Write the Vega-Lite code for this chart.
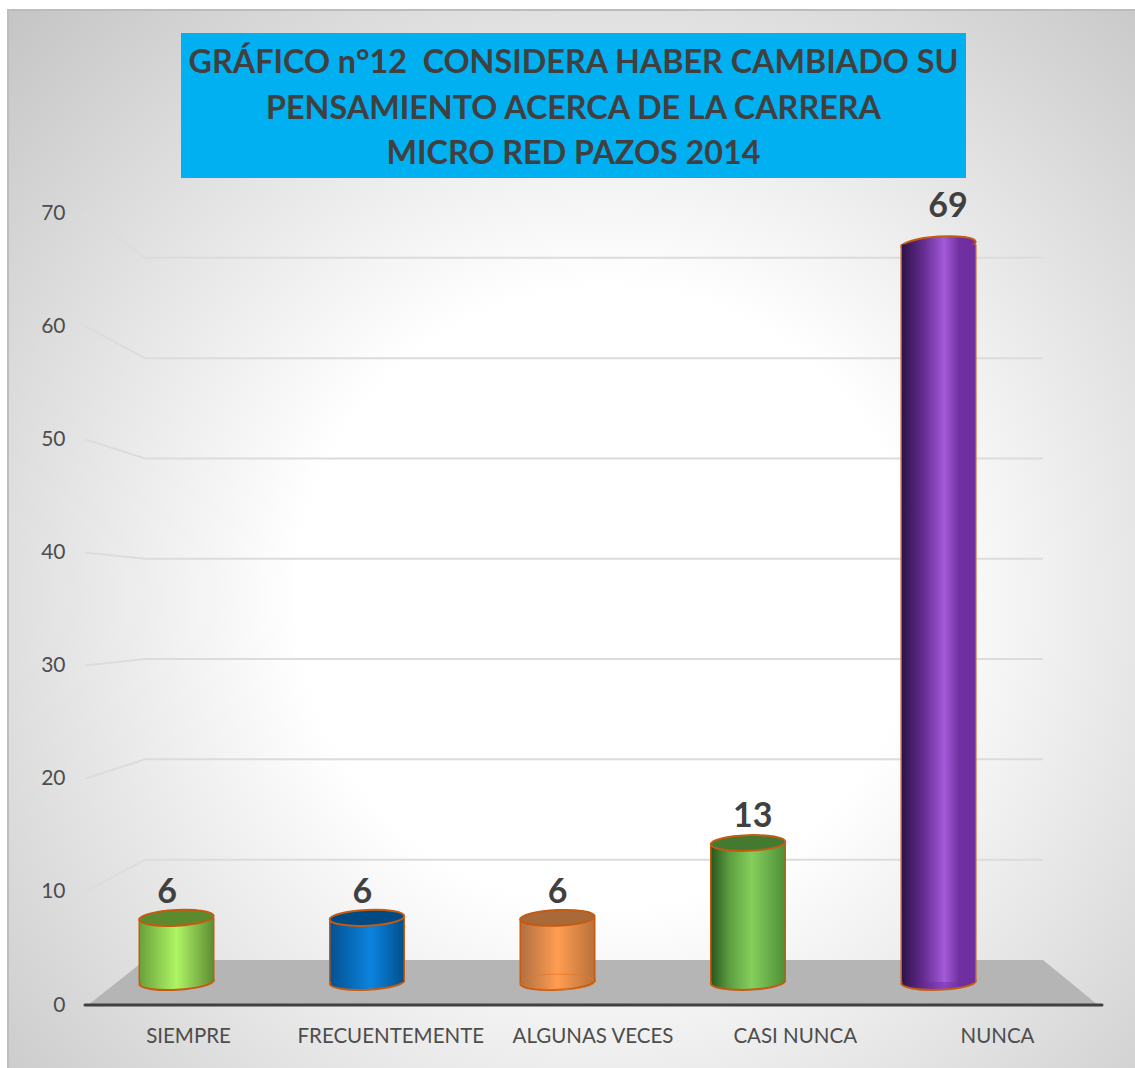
{
  "$schema": "https://vega.github.io/schema/vega-lite/v6.json",
  "width": 1130,
  "height": 1061,
  "padding": {"left": 8, "top": 10, "right": 0, "bottom": 0},
  "autosize": "none",
  "background": "white",
  "view": {
    "stroke": "#bdbdbd",
    "strokeWidth": 2,
    "fill": {
      "gradient": "radial",
      "x1": 0.53, "y1": 0.55, "r1": 0,
      "x2": 0.53, "y2": 0.55, "r2": 0.76,
      "stops": [
        {"offset": 0, "color": "#ffffff"},
        {"offset": 0.36, "color": "#ffffff"},
        {"offset": 1, "color": "#c2c2c2"}
      ]
    }
  },
  "config": {"font": "Lato"},
  "datasets": {
    "respuestas": [
      {"categoria": "SIEMPRE", "valor": 6},
      {"categoria": "FRECUENTEMENTE", "valor": 6},
      {"categoria": "ALGUNAS VECES", "valor": 6},
      {"categoria": "CASI NUNCA", "valor": 13},
      {"categoria": "NUNCA", "valor": 69}
    ],
    "piso": [
      {"a": 0.3, "altura": 0},
      {"a": 5.9, "altura": 3.98},
      {"a": 94.2, "altura": 3.98},
      {"a": 99.6, "altura": 0}
    ],
    "base": [
      {"a": 0, "altura": 0},
      {"a": 100, "altura": 0}
    ],
    "rejilla": [
      {"nivel": 10, "a": 0, "altura": 10},
      {"nivel": 10, "a": 5.9, "altura": 12.84},
      {"nivel": 10, "a": 94.2, "altura": 12.84},
      {"nivel": 20, "a": 0, "altura": 20},
      {"nivel": 20, "a": 5.9, "altura": 21.71},
      {"nivel": 20, "a": 94.2, "altura": 21.71},
      {"nivel": 30, "a": 0, "altura": 30},
      {"nivel": 30, "a": 5.9, "altura": 30.58},
      {"nivel": 30, "a": 94.2, "altura": 30.58},
      {"nivel": 40, "a": 0, "altura": 40},
      {"nivel": 40, "a": 5.9, "altura": 39.44},
      {"nivel": 40, "a": 94.2, "altura": 39.44},
      {"nivel": 50, "a": 0, "altura": 50},
      {"nivel": 50, "a": 5.9, "altura": 48.31},
      {"nivel": 50, "a": 94.2, "altura": 48.31},
      {"nivel": 60, "a": 0, "altura": 60},
      {"nivel": 60, "a": 5.9, "altura": 57.17},
      {"nivel": 60, "a": 94.2, "altura": 57.17},
      {"nivel": 70, "a": 0, "altura": 70},
      {"nivel": 70, "a": 5.9, "altura": 66.04},
      {"nivel": 70, "a": 94.2, "altura": 66.04}
    ],
    "encabezado": [
      {"panel": "encabezado"}
    ],
    "lineas": [
      {"orden": 1, "linea": "GRÁFICO n°12\u00a0 CONSIDERA HABER CAMBIADO SU"},
      {"orden": 2, "linea": "PENSAMIENTO ACERCA DE LA CARRERA"},
      {"orden": 3, "linea": "MICRO RED PAZOS 2014"}
    ]
  },
  "layer": [
    {
      "layer": [
        {
          "data": {"name": "piso"},
          "mark": {"type": "area", "color": "#b5b5b5"},
          "encoding": {
            "x": {"field": "a", "type": "quantitative", "scale": {"domain": [0, 100], "range": [77, 1094]}, "axis": null},
            "y": {"field": "altura", "type": "quantitative", "scale": {"domain": [0, 70], "range": [995, 203], "nice": false}, "axis": null},
            "y2": {"datum": 0}
          }
        },
        {
          "data": {"name": "rejilla"},
          "mark": {"type": "line", "color": "#dcdcdc", "strokeWidth": 2},
          "encoding": {
            "x": {"field": "a", "type": "quantitative", "axis": null},
            "y": {"field": "altura", "type": "quantitative", "axis": null},
            "detail": {"field": "nivel"}
          }
        },
        {
          "data": {"name": "base"},
          "mark": {"type": "line", "color": "#404040", "strokeWidth": 3, "strokeCap": "round"},
          "encoding": {
            "x": {"field": "a", "type": "quantitative", "axis": null},
            "y": {"field": "altura", "type": "quantitative", "axis": null}
          }
        }
      ]
    },
    {
      "data": {"name": "rejilla"},
      "mark": {"type": "point", "opacity": 0},
      "encoding": {
        "y": {
          "field": "nivel",
          "type": "quantitative",
          "scale": {"domain": [0, 70], "range": [995, 203], "nice": false},
          "axis": {
            "orient": "left",
            "title": null,
            "values": [0, 10, 20, 30, 40, 50, 60, 70],
            "grid": false,
            "ticks": false,
            "domain": false,
            "offset": -57,
            "labelPadding": 0,
            "labelFontSize": 21,
            "labelColor": "#4d4d4d"
          }
        }
      }
    },
    {
      "data": {"name": "encabezado"},
      "mark": {"type": "rect", "color": "#00b0f0"},
      "encoding": {
        "x": {"field": "panel", "type": "nominal", "scale": {"type": "band", "range": [173, 958], "padding": 0}, "axis": null},
        "y": {"field": "panel", "type": "nominal", "scale": {"type": "band", "range": [23, 168], "padding": 0}, "axis": null}
      }
    },
    {
      "data": {"name": "lineas"},
      "mark": {"type": "text", "fontWeight": "bold", "fontSize": 32.3, "color": "#404040", "baseline": "middle", "align": "center"},
      "encoding": {
        "x": {"datum": "encabezado", "type": "nominal", "scale": {"type": "band", "range": [173, 958], "padding": 0}, "axis": null},
        "y": {"field": "orden", "type": "ordinal", "scale": {"type": "point", "range": [53, 144], "padding": 0}, "axis": null},
        "text": {"field": "linea"}
      }
    },
    {
      "data": {"name": "respuestas"},
      "mark": {"type": "point", "opacity": 0},
      "encoding": {
        "x": {
          "field": "categoria",
          "type": "nominal",
          "sort": null,
          "scale": {"type": "band", "range": [79.4, 1090.6], "padding": 0},
          "axis": {
            "orient": "bottom",
            "title": null,
            "labelAngle": 0,
            "offset": -66,
            "ticks": false,
            "domain": false,
            "grid": false,
            "labelPadding": 21,
            "labelFontSize": 20.5,
            "labelLimit": 0,
            "labelColor": "#4d4d4d"
          }
        }
      }
    },
    {
      "data": {"name": "respuestas"},
      "mark": {
        "type": "point",
        "shape": "M-1,0 A1,0.21 0 1 1 1,0 A1,0.21 0 1 1 -1,0 Z",
        "size": 5550,
        "filled": true,
        "opacity": 1,
        "stroke": "#c55a11",
        "strokeWidth": 2
      },
      "encoding": {
        "x": {"field": "categoria", "type": "nominal", "sort": null, "scale": {"type": "band", "range": [73.25, 1025.75], "padding": 0}, "axis": null},
        "y": {"datum": 0, "type": "quantitative", "scale": {"domain": [0, 70], "range": [972, 223.7], "nice": false}, "axis": null},
        "angle": {
          "field": "categoria",
          "type": "nominal",
          "scale": {"domain": ["SIEMPRE", "FRECUENTEMENTE", "ALGUNAS VECES", "CASI NUNCA", "NUNCA"], "range": [-3, -2, 0, 1, -4]},
          "legend": null
        },
        "fill": {
          "condition": [
            {"test": "datum.categoria === 'SIEMPRE'", "value": {"gradient": "linear", "x1": 0, "y1": 0, "x2": 1, "y2": 0, "stops": [{"offset": 0, "color": "#69a03a"}, {"offset": 0.5, "color": "#aef565"}, {"offset": 1, "color": "#5e8c33"}]}},
            {"test": "datum.categoria === 'FRECUENTEMENTE'", "value": {"gradient": "linear", "x1": 0, "y1": 0, "x2": 1, "y2": 0, "stops": [{"offset": 0, "color": "#04518f"}, {"offset": 0.55, "color": "#0b84e0"}, {"offset": 1, "color": "#024f8a"}]}},
            {"test": "datum.categoria === 'ALGUNAS VECES'", "value": {"gradient": "linear", "x1": 0, "y1": 0, "x2": 1, "y2": 0, "stops": [{"offset": 0, "color": "#b06f42"}, {"offset": 0.5, "color": "#ff9d52"}, {"offset": 1, "color": "#b8713a"}]}},
            {"test": "datum.categoria === 'CASI NUNCA'", "value": {"gradient": "linear", "x1": 0, "y1": 0, "x2": 1, "y2": 0, "stops": [{"offset": 0, "color": "#28561f"}, {"offset": 0.25, "color": "#5c9e40"}, {"offset": 0.55, "color": "#85cf5c"}, {"offset": 1, "color": "#4d8f37"}]}}
          ],
          "value": {"gradient": "linear", "x1": 0, "y1": 0, "x2": 1, "y2": 0, "stops": [{"offset": 0, "color": "#2d1248"}, {"offset": 0.3, "color": "#642c90"}, {"offset": 0.58, "color": "#8a44c4"}, {"offset": 0.78, "color": "#7030a0"}, {"offset": 1, "color": "#6f2da0"}]}
        }
      }
    },
    {
      "data": {"name": "respuestas"},
      "transform": [{"filter": "datum.categoria === 'NUNCA'"}],
      "mark": {
        "type": "point",
        "shape": "M-1,0 A1,0.21 0 1 1 1,0 A1,0.21 0 1 1 -1,0 Z",
        "size": 5550,
        "filled": true,
        "opacity": 1,
        "stroke": "#c55a11",
        "strokeWidth": 2,
        "angle": -4,
        "fill": {
          "gradient": "linear", "x1": 0, "y1": 0, "x2": 1, "y2": 0,
          "stops": [{"offset": 0, "color": "#2d1248"}, {"offset": 0.3, "color": "#642c90"}, {"offset": 0.58, "color": "#a35ad9"}, {"offset": 0.78, "color": "#7030a0"}, {"offset": 1, "color": "#6f2da0"}]
        }
      },
      "encoding": {
        "x": {"field": "categoria", "type": "nominal", "scale": {"type": "band", "domain": ["SIEMPRE", "FRECUENTEMENTE", "ALGUNAS VECES", "CASI NUNCA", "NUNCA"], "range": [73.25, 1025.75], "padding": 0}, "axis": null},
        "y": {"field": "valor", "type": "quantitative", "scale": {"domain": [0, 70], "range": [972, 223.7], "nice": false}, "axis": null}
      }
    },
    {
      "data": {"name": "respuestas"},
      "mark": {"type": "bar", "size": 74.5},
      "encoding": {
        "x": {"field": "categoria", "type": "nominal", "sort": null, "scale": {"type": "band", "range": [73.25, 1025.75], "padding": 0}, "axis": null},
        "y": {"field": "valor", "type": "quantitative", "scale": {"domain": [0, 70], "range": [972, 223.7], "nice": false}, "axis": null},
        "fill": {
          "condition": [
            {"test": "datum.categoria === 'SIEMPRE'", "value": {"gradient": "linear", "x1": 0, "y1": 0, "x2": 1, "y2": 0, "stops": [{"offset": 0, "color": "#69a03a"}, {"offset": 0.5, "color": "#aef565"}, {"offset": 1, "color": "#5e8c33"}]}},
            {"test": "datum.categoria === 'FRECUENTEMENTE'", "value": {"gradient": "linear", "x1": 0, "y1": 0, "x2": 1, "y2": 0, "stops": [{"offset": 0, "color": "#04518f"}, {"offset": 0.55, "color": "#0b84e0"}, {"offset": 1, "color": "#024f8a"}]}},
            {"test": "datum.categoria === 'ALGUNAS VECES'", "value": {"gradient": "linear", "x1": 0, "y1": 0, "x2": 1, "y2": 0, "stops": [{"offset": 0, "color": "#b06f42"}, {"offset": 0.5, "color": "#ff9d52"}, {"offset": 1, "color": "#b8713a"}]}},
            {"test": "datum.categoria === 'CASI NUNCA'", "value": {"gradient": "linear", "x1": 0, "y1": 0, "x2": 1, "y2": 0, "stops": [{"offset": 0, "color": "#28561f"}, {"offset": 0.25, "color": "#5c9e40"}, {"offset": 0.55, "color": "#85cf5c"}, {"offset": 1, "color": "#4d8f37"}]}}
          ],
          "value": {"gradient": "linear", "x1": 0, "y1": 0, "x2": 1, "y2": 0, "stops": [{"offset": 0, "color": "#2d1248"}, {"offset": 0.3, "color": "#642c90"}, {"offset": 0.58, "color": "#a35ad9"}, {"offset": 0.78, "color": "#7030a0"}, {"offset": 1, "color": "#6f2da0"}]}
        }
      }
    },
    {
      "data": {"name": "respuestas"},
      "transform": [{"filter": "datum.categoria === 'ALGUNAS VECES'"}],
      "mark": {
        "type": "point",
        "shape": "M-1,0 A1,0.21 0 1 1 1,0 A1,0.21 0 1 1 -1,0 Z",
        "size": 5550,
        "filled": false,
        "opacity": 0.8,
        "stroke": "#e8792b",
        "strokeWidth": 1
      },
      "encoding": {
        "x": {"field": "categoria", "type": "nominal", "scale": {"type": "band", "domain": ["SIEMPRE", "FRECUENTEMENTE", "ALGUNAS VECES", "CASI NUNCA", "NUNCA"], "range": [73.25, 1025.75], "padding": 0}, "axis": null},
        "y": {"datum": 0, "type": "quantitative", "scale": {"domain": [0, 70], "range": [972, 223.7], "nice": false}, "axis": null}
      }
    },
    {
      "data": {"name": "respuestas"},
      "mark": {"type": "rule", "color": "#c55a11", "strokeWidth": 1.5, "xOffset": -37.25},
      "encoding": {
        "x": {"field": "categoria", "type": "nominal", "sort": null, "scale": {"type": "band", "range": [73.25, 1025.75], "padding": 0}, "axis": null},
        "y": {"field": "valor", "type": "quantitative", "scale": {"domain": [0, 70], "range": [972, 223.7], "nice": false}, "axis": null},
        "y2": {"datum": 0}
      }
    },
    {
      "data": {"name": "respuestas"},
      "mark": {"type": "rule", "color": "#c55a11", "strokeWidth": 1.5, "xOffset": 37.25},
      "encoding": {
        "x": {"field": "categoria", "type": "nominal", "sort": null, "scale": {"type": "band", "range": [73.25, 1025.75], "padding": 0}, "axis": null},
        "y": {"field": "valor", "type": "quantitative", "scale": {"domain": [0, 70], "range": [972, 223.7], "nice": false}, "axis": null},
        "y2": {"datum": 0}
      }
    },
    {
      "data": {"name": "respuestas"},
      "transform": [{"filter": "datum.categoria !== 'NUNCA'"}],
      "mark": {
        "type": "point",
        "shape": "M-1,0 A1,0.21 0 1 1 1,0 A1,0.21 0 1 1 -1,0 Z",
        "size": 5550,
        "filled": true,
        "opacity": 1,
        "stroke": "#c55a11",
        "strokeWidth": 2
      },
      "encoding": {
        "x": {"field": "categoria", "type": "nominal", "scale": {"type": "band", "domain": ["SIEMPRE", "FRECUENTEMENTE", "ALGUNAS VECES", "CASI NUNCA", "NUNCA"], "range": [73.25, 1025.75], "padding": 0}, "axis": null},
        "y": {"field": "valor", "type": "quantitative", "scale": {"domain": [0, 70], "range": [972, 223.7], "nice": false}, "axis": null},
        "angle": {
          "field": "categoria",
          "type": "nominal",
          "scale": {"domain": ["SIEMPRE", "FRECUENTEMENTE", "ALGUNAS VECES", "CASI NUNCA"], "range": [-3, -2, 0, 1]},
          "legend": null
        },
        "fill": {
          "field": "categoria",
          "type": "nominal",
          "legend": null,
          "scale": {
            "domain": ["SIEMPRE", "FRECUENTEMENTE", "ALGUNAS VECES", "CASI NUNCA"],
            "range": ["#5b8a2f", "#004b84", "#a96a3a", "#437a2f"]
          }
        }
      }
    },
    {
      "data": {"name": "respuestas"},
      "mark": {"type": "text", "fontWeight": "bold", "fontSize": 34, "color": "#404040", "baseline": "middle", "align": "center"},
      "encoding": {
        "x": {"field": "categoria", "type": "nominal", "sort": null, "scale": {"type": "band", "range": [61.4, 1037.6], "padding": 0}, "axis": null},
        "y": {"field": "valor", "type": "quantitative", "scale": {"domain": [0, 70], "range": [948.3, 186.1], "nice": false}, "axis": null},
        "text": {"field": "valor", "type": "quantitative"}
      }
    }
  ],
  "resolve": {
    "scale": {"x": "independent", "y": "independent", "fill": "independent", "angle": "independent"},
    "axis": {"x": "independent", "y": "independent"}
  }
}
